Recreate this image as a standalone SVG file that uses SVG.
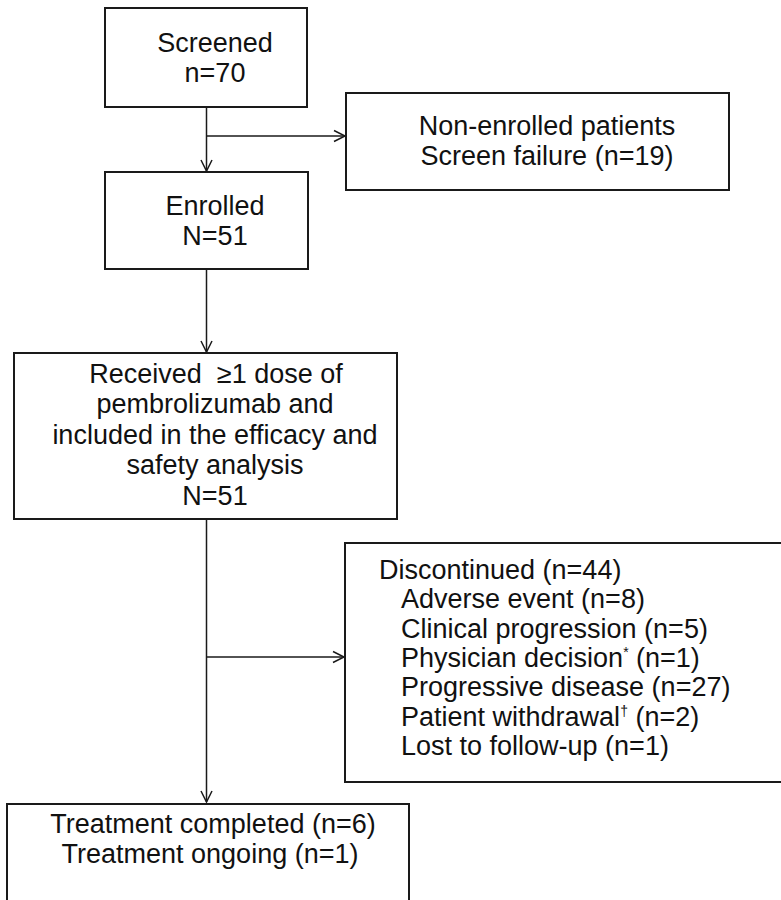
<svg xmlns="http://www.w3.org/2000/svg" width="781" height="900" viewBox="0 0 781 900">
  <defs>
    <style>
      .box { fill: #ffffff; stroke: #1a1a1a; stroke-width: 2; }
      .conn { fill: none; stroke: #1a1a1a; stroke-width: 1.5; }
      .t { font-family: "Liberation Sans", Arial, sans-serif; font-size: 27px; fill: #111111; }
      .c { text-anchor: middle; }
      .sup { font-size: 14px; }
    </style>
    <marker id="arr" markerUnits="userSpaceOnUse" markerWidth="14" markerHeight="14" viewBox="-12 -7 14 14" refX="0" refY="0" orient="auto">
      <polyline points="-11,-5.5 0,0 -11,5.5" fill="none" stroke="#1a1a1a" stroke-width="1.5"/>
    </marker>
  </defs>
  <rect width="781" height="900" fill="#ffffff"/>

  <g id="connectors">
    <line class="conn" x1="206.5" y1="107" x2="206.5" y2="171" marker-end="url(#arr)"/>
    <line class="conn" x1="206.5" y1="136" x2="345" y2="136" marker-end="url(#arr)"/>
    <line class="conn" x1="206.5" y1="269" x2="206.5" y2="352" marker-end="url(#arr)"/>
    <line class="conn" x1="206.5" y1="519" x2="206.5" y2="802" marker-end="url(#arr)"/>
    <line class="conn" x1="206.5" y1="657" x2="344" y2="657" marker-end="url(#arr)"/>
  </g>

  <g id="screened">
    <rect class="box" x="105" y="8" width="202" height="99"/>
    <text class="t c" x="215" y="52">Screened</text>
    <text class="t c" x="215" y="82">n=70</text>
  </g>

  <g id="non-enrolled">
    <rect class="box" x="346" y="93" width="383" height="97"/>
    <text class="t c" x="547" y="135">Non-enrolled patients</text>
    <text class="t c" x="547" y="165">Screen failure (n=19)</text>
  </g>

  <g id="enrolled">
    <rect class="box" x="105" y="172" width="203" height="97"/>
    <text class="t c" x="215" y="215">Enrolled</text>
    <text class="t c" x="215" y="245">N=51</text>
  </g>

  <g id="received">
    <rect class="box" x="14" y="353" width="383" height="166"/>
    <text class="t c" x="216" y="383">Received &#160;≥1 dose of</text>
    <text class="t c" x="215" y="413">pembrolizumab and</text>
    <text class="t c" x="215" y="444">included in the efficacy and</text>
    <text class="t c" x="215" y="474">safety analysis</text>
    <text class="t c" x="215" y="505">N=51</text>
  </g>

  <g id="discontinued">
    <rect class="box" x="345" y="543" width="440" height="239"/>
    <text class="t" x="379" y="579">Discontinued (n=44)</text>
    <text class="t" x="401" y="608">Adverse event (n=8)</text>
    <text class="t" x="401" y="638">Clinical progression (n=5)</text>
    <text class="t" x="401" y="667">Physician decision<tspan class="sup" dy="-10">*</tspan><tspan dy="10"> (n=1)</tspan></text>
    <text class="t" x="401" y="696">Progressive disease (n=27)</text>
    <text class="t" x="401" y="726">Patient withdrawal<tspan class="sup" dy="-10">†</tspan><tspan dy="10"> (n=2)</tspan></text>
    <text class="t" x="401" y="755">Lost to follow-up (n=1)</text>
  </g>

  <g id="treatment">
    <rect class="box" x="7" y="804" width="402" height="110"/>
    <text class="t c" x="213" y="833">Treatment completed (n=6)</text>
    <text class="t c" x="210" y="863">Treatment ongoing (n=1)</text>
  </g>
</svg>
